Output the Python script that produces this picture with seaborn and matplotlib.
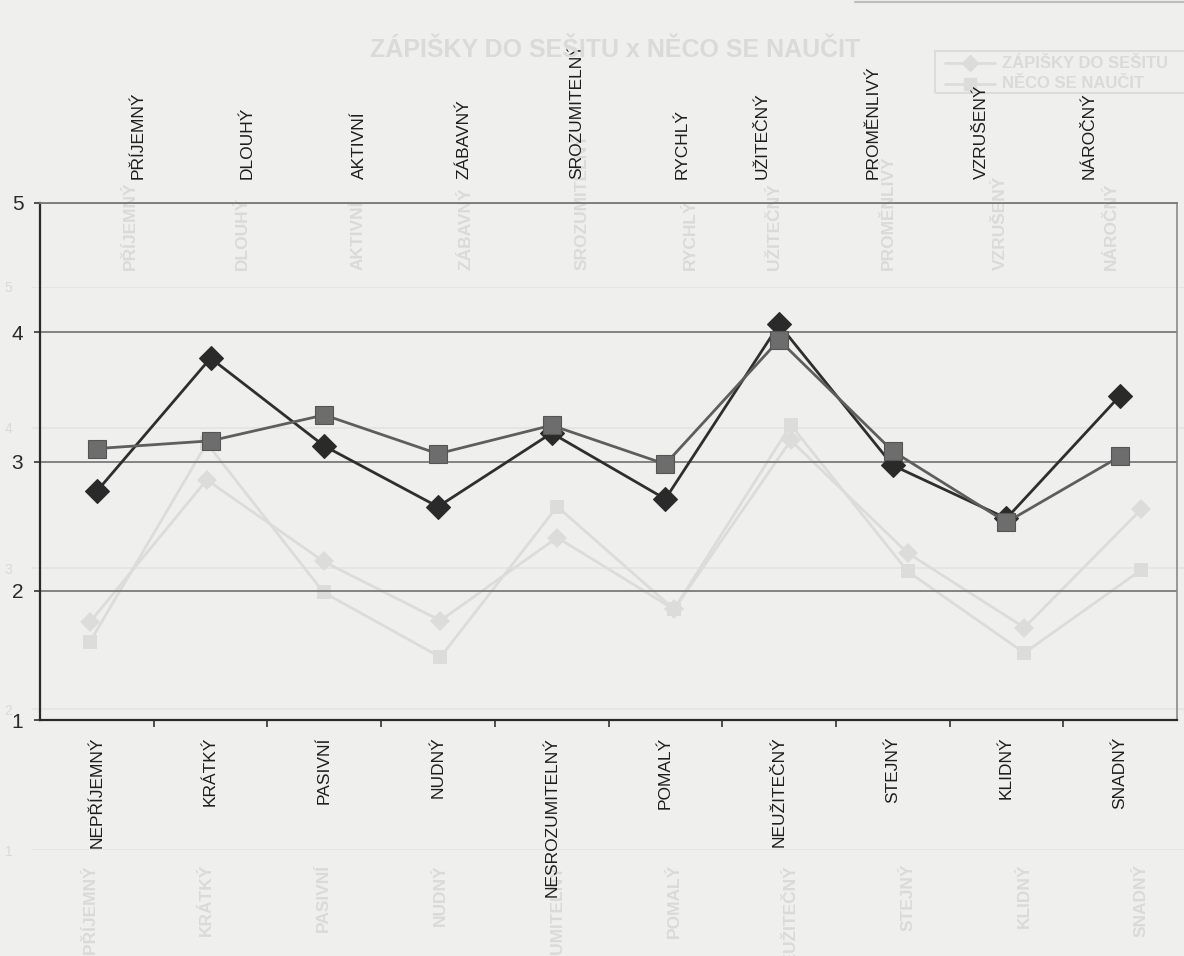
import matplotlib
matplotlib.use("Agg")
import matplotlib.pyplot as plt
import numpy as np
import pandas as pd
import seaborn as sns

# --- data -------------------------------------------------------------
low_labels = ["NEPŘÍJEMNÝ", "KRÁTKÝ", "PASIVNÍ", "NUDNÝ", "NESROZUMITELNÝ",
              "POMALÝ", "NEUŽITEČNÝ", "STEJNÝ", "KLIDNÝ", "SNADNÝ"]
high_labels = ["PŘÍJEMNÝ", "DLOUHÝ", "AKTIVNÍ", "ZÁBAVNÝ", "SROZUMITELNÝ",
               "RYCHLÝ", "UŽITEČNÝ", "PROMĚNLIVÝ", "VZRUŠENÝ", "NÁROČNÝ"]
series_names = ["ZÁPIŠKY DO SEŠITU", "NĚCO SE NAUČIT"]
zapisky = [2.77, 3.80, 3.12, 2.65, 3.22, 2.71, 4.06, 2.97, 2.56, 3.51]
neco = [3.10, 3.16, 3.36, 3.06, 3.28, 2.98, 3.94, 3.08, 2.53, 3.04]
y_ticks = [1, 2, 3, 4, 5]

# faint print showing through from the other side of the sheet
back_title = "ZÁPIŠKY DO SEŠITU x NĚCO SE NAUČIT"
back_a = [2.62, 3.63, 3.05, 2.63, 3.22, 2.71, 3.91, 3.11, 2.58, 3.42]
back_b = [2.48, 3.89, 2.83, 2.37, 3.44, 2.71, 4.02, 2.98, 2.40, 2.99]

# --- layout -----------------------------------------------------------
high_label_shift = [0.36, 0.32, 0.31, 0.23, 0.22, 0.15, -0.15, -0.17, -0.22, -0.27]

sns.set_theme(style="white")
plt.rcParams["font.family"] = ["Liberation Sans", "DejaVu Sans"]

W, H = 1184, 956
paper = "#efefed"
fig = plt.figure(figsize=(W / 100, H / 100), dpi=100, facecolor=paper)

idx = np.arange(len(low_labels))
df = pd.DataFrame({
    "pos": np.concatenate([idx, idx]),
    "value": zapisky + neco,
    "series": [series_names[0]] * len(idx) + [series_names[1]] * len(idx),
})
back_df = pd.DataFrame({
    "pos": np.concatenate([idx, idx]),
    "value": back_a + back_b,
    "series": [series_names[0]] * len(idx) + [series_names[1]] * len(idx),
})

# ---- show-through layer (very faint) ----
ghost = "#dcdcda"
ghost_txt = "#dadad8"
gax = fig.add_axes([31.6 / W, (H - 850) / H, 1168 / W, 563 / H], zorder=0)
gax.set_facecolor("none")
gax.set_xlim(-0.5, 9.5)
gax.set_ylim(1, 5)
for v in y_ticks:
    gax.axhline(v, color="#e3e3e1", lw=1.2, zorder=0)
sns.lineplot(data=back_df, x="pos", y="value", hue="series", style="series",
             markers={series_names[0]: "D", series_names[1]: "s"}, dashes=False,
             palette=[ghost, ghost], markersize=10, markeredgewidth=0,
             linewidth=2.0, legend=False, ax=gax, zorder=1)
gax.set_xticks(idx)
gax.set_xticklabels(low_labels, rotation=90, va="top", ha="center",
                    fontsize=12.5, color=ghost_txt, fontweight="bold")
gax.tick_params(axis="x", length=0, pad=10)
gax.set_yticks(y_ticks)
gax.set_yticklabels([str(v) for v in y_ticks], fontsize=10, color=ghost_txt)
gax.tick_params(axis="y", length=0, pad=14)
for i, lab in enumerate(high_labels):
    gax.annotate(lab, (i + high_label_shift[i] * 0.95, 5), xytext=(0, 12),
                 textcoords="offset points", rotation=90, ha="center", va="bottom",
                 fontsize=12.5, color=ghost_txt, fontweight="bold",
                 annotation_clip=False)
gax.set_xlabel("")
gax.set_ylabel("")
for s in gax.spines.values():
    s.set_visible(False)
fig.text(615 / W, 1 - 50 / H, back_title, ha="center", va="center",
         fontsize=18, fontweight="bold", color=ghost_txt)
fig.add_artist(plt.Rectangle((935 / W, 1 - 93 / H), 260 / W, 42 / H,
                             transform=fig.transFigure, fill=False,
                             edgecolor=ghost, lw=1.5))
fig.add_artist(plt.Line2D([855 / W, 1.0], [1 - 2 / H, 1 - 2 / H],
                          transform=fig.transFigure, color="#bdbdbb", lw=1.5))
for k, name in enumerate(series_names):
    yy = 1 - (63 + 21 * k) / H
    fig.add_artist(plt.Line2D([945 / W, 970 / W, 995 / W], [yy, yy, yy],
                              transform=fig.transFigure, color=ghost, lw=2,
                              marker="Ds"[k], markevery=[1], markersize=8))
    fig.text(1002 / W, yy, name, ha="left", va="center", fontsize=12,
             fontweight="bold", color=ghost_txt)

# ---- main chart ----
ax = fig.add_axes([40 / W, (H - 720) / H, 1137 / W, 517 / H], zorder=2)
ax.set_facecolor("none")
ax.set_xlim(-0.5, 9.5)
ax.set_ylim(1, 5)

grid_col = "#7a7a7a"
for v in y_ticks[1:]:
    ax.axhline(v, color=grid_col, lw=1.3, zorder=1)

sns.lineplot(data=df, x="pos", y="value", hue="series", style="series",
             markers={series_names[0]: "D", series_names[1]: "s"}, dashes=False,
             palette=["#2e2e2e", "#5e5e5e"], markersize=12, markeredgewidth=0.8,
             linewidth=2.0, legend=False, ax=ax, zorder=3)
# square markers are a lighter fill than their outline
for line in ax.lines:
    if line.get_marker() == "s":
        line.set_markerfacecolor("#6d6d6d")
        line.set_markeredgecolor("#555555")
        line.set_markersize(13)
    elif line.get_marker() == "D":
        line.set_markerfacecolor("#2a2a2a")
        line.set_markeredgecolor("#2a2a2a")

ax.set_xlabel("")
ax.set_ylabel("")
ax.set_xticks(idx)
ax.set_xticklabels(low_labels, rotation=90, va="top", ha="center",
                   fontsize=12.5, color="#1e1e1e")
ax.tick_params(axis="x", which="major", length=0, pad=12)
ax.set_xticks(np.arange(-0.5, 10, 1)[1:-1], minor=True)
ax.tick_params(axis="x", which="minor", length=5, width=1.2, color="#333333",
               direction="out", bottom=True)
ax.set_yticks(y_ticks)
ax.set_yticklabels([str(v) for v in y_ticks], fontsize=15, color="#2a2a2a")
ax.tick_params(axis="y", length=4, width=1.2, color="#333333", direction="out",
               pad=8, left=True)

for i, lab in enumerate(high_labels):
    ax.annotate(lab, (i + high_label_shift[i], 5), xytext=(0, 17.5),
                textcoords="offset points", rotation=90, ha="center", va="bottom",
                fontsize=12.5, color="#1e1e1e", annotation_clip=False)

for side in ["left", "bottom"]:
    ax.spines[side].set_color("#2a2a2a")
    ax.spines[side].set_linewidth(1.6)
ax.spines["right"].set_color("#8a8a8a")
ax.spines["right"].set_linewidth(1.2)
ax.spines["top"].set_color(grid_col)
ax.spines["top"].set_linewidth(1.3)

fig.savefig("out.png", dpi=100, facecolor=paper)
